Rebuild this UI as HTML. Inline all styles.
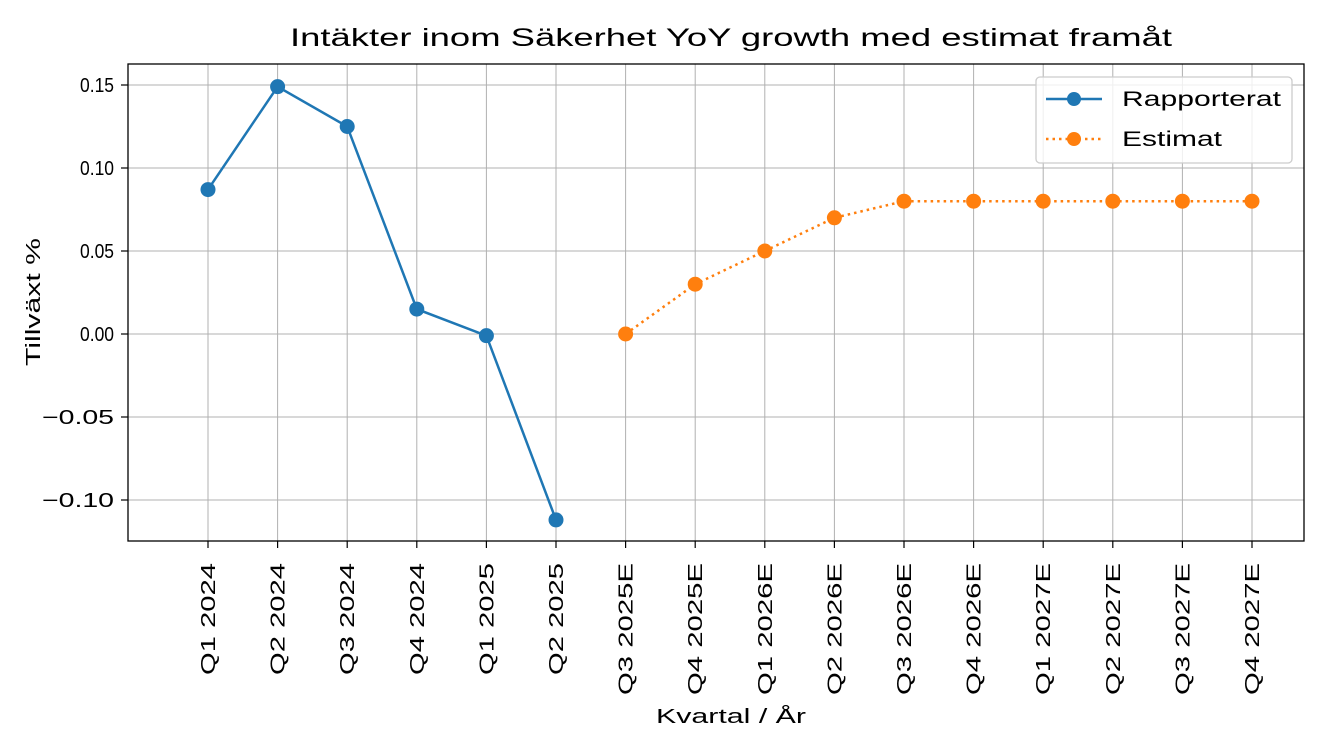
<!DOCTYPE html>
<html><head><meta charset="utf-8"><style>
body{margin:0;background:#fff;}
svg{display:block;font-family:"Liberation Sans","DejaVu Sans",sans-serif;}
</style></head><body>
<svg id="chart" width="1324" height="749" viewBox="0 0 1324 749">
<text x="290" y="46" font-size="25" textLength="882" lengthAdjust="spacingAndGlyphs">Intäkter inom Säkerhet YoY growth med estimat framåt</text>
<g id="grid"></g>
<g id="axes"></g>
<g id="series"></g>
<rect x="128" y="64" width="1176" height="477" fill="none" stroke="#000" stroke-width="1.3"/>
<text transform="translate(40,366) rotate(-90)" font-size="20" textLength="128" lengthAdjust="spacingAndGlyphs">Tillväxt %</text>
<text x="656" y="723" font-size="20" textLength="150" lengthAdjust="spacingAndGlyphs">Kvartal / År</text>
<g>
<rect x="1036" y="77" width="256" height="86" rx="4" fill="#fff" fill-opacity="0.8" stroke="#ccc" stroke-width="1.3"/>
<line x1="1046" y1="99" x2="1102" y2="99" stroke="#1f77b4" stroke-width="2.5"/>
<circle cx="1074" cy="99" r="7" fill="#1f77b4"/>
<text x="1122" y="106" font-size="21" textLength="159" lengthAdjust="spacingAndGlyphs">Rapporterat</text>
<line x1="1046" y1="139" x2="1102" y2="139" stroke="#ff7f0e" stroke-width="2.5" stroke-dasharray="2.5,4"/>
<circle cx="1074" cy="139" r="7" fill="#ff7f0e"/>
<text x="1122" y="146" font-size="21" textLength="100" lengthAdjust="spacingAndGlyphs">Estimat</text>
</g>
</svg>
<script>
const categories=["Q1 2024","Q2 2024","Q3 2024","Q4 2024","Q1 2025","Q2 2025","Q3 2025E","Q4 2025E","Q1 2026E","Q2 2026E","Q3 2026E","Q4 2026E","Q1 2027E","Q2 2027E","Q3 2027E","Q4 2027E"];
const reported=[0.087,0.149,0.125,0.015,-0.001,-0.112];
const estimate=[null,null,null,null,null,null,0,0.03,0.05,0.07,0.08,0.08,0.08,0.08,0.08,0.08];
const yTicks=[0.15,0.10,0.05,0.00,-0.05,-0.10];
const yTickLabels=["0.15","0.10","0.05","0.00","\u22120.05","\u22120.10"];
const NS="http://www.w3.org/2000/svg";
const X0=208,XSTEP=69.6,Y0=334,YSCALE=1660;
function xs(i){return X0+i*XSTEP;}
function ys(v){return Y0-v*YSCALE;}
function mk(t,a,p){const e=document.createElementNS(NS,t);for(const k in a)e.setAttribute(k,a[k]);p.appendChild(e);return e;}
const grid=document.getElementById('grid'),axes=document.getElementById('axes'),ser=document.getElementById('series');
categories.forEach((c,i)=>{
 const g=mk('line',{x1:xs(i),x2:xs(i),y1:64,y2:541,stroke:'#b0b0b0','stroke-width':1},grid);
 
 
 mk('line',{x1:xs(i),x2:xs(i),y1:541,y2:548,stroke:'#000','stroke-width':1.2},axes);
 const len=c.endsWith('E')?132:112;
 const t=mk('text',{transform:`translate(${xs(i)+7},563) rotate(-90)`,'font-size':20,'text-anchor':'end',textLength:len,lengthAdjust:'spacingAndGlyphs'},axes);
 t.textContent=c;
 
 
});
yTicks.forEach((v,i)=>{
 const g=mk('line',{x1:128,x2:1304,y1:ys(v),y2:ys(v),stroke:'#b0b0b0','stroke-width':1},grid);
 
 
 mk('line',{x1:121,x2:128,y1:ys(v),y2:ys(v),stroke:'#000','stroke-width':1.2},axes);
 const len=yTickLabels[i].length>4?72:34;
 const t=mk('text',{x:114-len,y:ys(v)+7,'font-size':20,textLength:len,lengthAdjust:'spacingAndGlyphs'},axes);
 t.textContent=yTickLabels[i];
 
 
});
function draw(data,color,dash,name){
 const pts=[];data.forEach((v,i)=>{if(v!==null)pts.push([xs(i),ys(v)]);});
 const a={points:pts.map(p=>p.join(',')).join(' '),fill:'none',stroke:color,'stroke-width':2.5};
 if(dash)a['stroke-dasharray']=dash;
 const l=mk('polyline',a,ser);
 
 
 pts.forEach(p=>{const c=mk('circle',{cx:p[0],cy:p[1],r:7.5,fill:color},ser);
  
  });
}
draw(reported,'#1f77b4',null,'rapporterat');
draw(estimate,'#ff7f0e','2.5,4','estimat');
</script>
</body></html>
